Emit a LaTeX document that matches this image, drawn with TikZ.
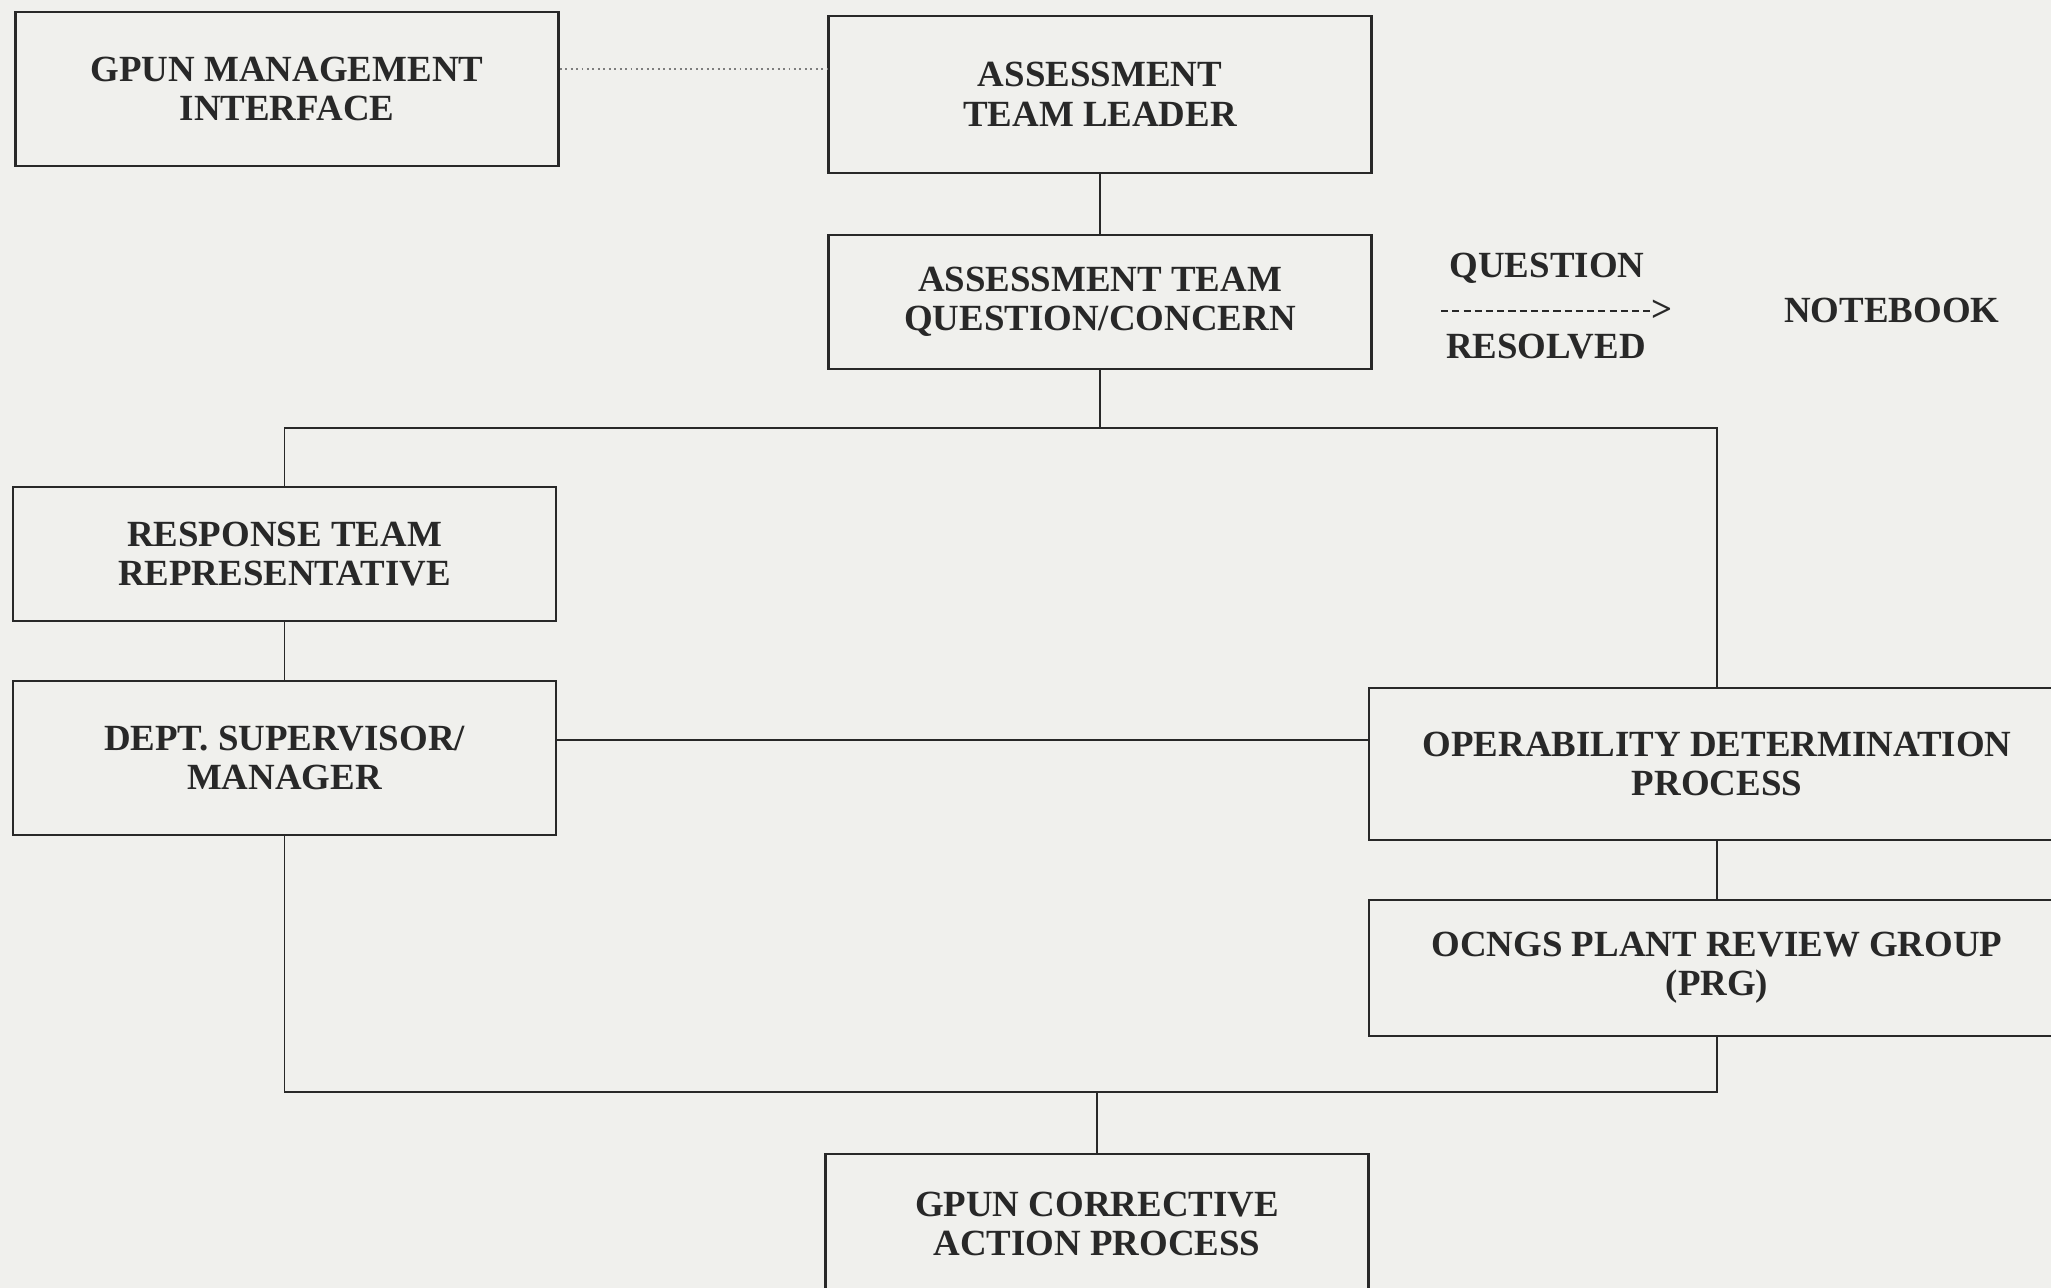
\documentclass[tikz,border=0pt]{standalone}
\usepackage{fontspec}
\setmainfont{Liberation Serif}
\usepackage{tikz}
\definecolor{paper}{RGB}{240,240,237}
\definecolor{ink}{RGB}{40,40,40}
\tikzstyle{block} = [rectangle, draw=ink, line width=0.7pt, minimum width=5.43cm, align=center, text=ink, font=\bfseries\fontsize{10.5}{11.2}\selectfont, inner sep=2pt]
\tikzstyle{wideblock} = [block, minimum width=6.96cm]
\tikzstyle{label} = [text=ink, font=\bfseries\fontsize{10.5}{11.2}\selectfont, inner sep=0pt]
\tikzstyle{link} = [draw=ink, line width=0.55pt]

\begin{document}
\begin{tikzpicture}
			\clip (0,0) rectangle (20.51,-12.88);
			\fill[paper] (0,0) rectangle (20.51,-12.88);
			% boxes
			\node [block, minimum height=1.54cm] (gpun) at (2.87,-0.89) {GPUN MANAGEMENT\\INTERFACE};
			\node [block, minimum height=1.57cm] (leader) at (11.00,-0.945) {ASSESSMENT\\TEAM LEADER};
			\node [block, minimum height=1.34cm] (concern) at (11.00,-3.02) {ASSESSMENT TEAM\\QUESTION/CONCERN};
			\node [block, minimum height=1.34cm] (response) at (2.845,-5.54) {RESPONSE TEAM\\REPRESENTATIVE};
			\node [block, minimum height=1.54cm] (dept) at (2.845,-7.58) {DEPT. SUPERVISOR/\\MANAGER};
			\node [wideblock, minimum height=1.52cm] (ops) at (17.17,-7.64) {OPERABILITY DETERMINATION\\PROCESS};
			\node [wideblock, minimum height=1.36cm] (ocngs) at (17.17,-9.68) {OCNGS PLANT REVIEW GROUP\\(PRG)};
			\node [block, minimum height=1.40cm] (corrective) at (10.97,-12.24) {GPUN CORRECTIVE\\ACTION PROCESS};
			% question resolved -> notebook
			\node [label] (question) at (15.47,-2.68) {QUESTION};
			\node [label] (resolved) at (15.46,-3.47) {RESOLVED};
			\node [label] (gt) at (16.62,-3.11) {>};
			\coordinate (dashstart) at (14.41,-3.11);
			\draw [ink, line width=0.6pt, dash pattern=on 2pt off 1.2pt] (dashstart) -- (gt.west);
			\node [label] (notebook) at (18.92,-3.10) {NOTEBOOK};
			% connectors
			\draw [link, draw=ink!60, densely dotted] ([yshift=2mm]gpun.east) -- ([yshift=2mm]gpun.east -| leader.west);
			\draw [link] (leader) -- (concern);
			\coordinate (topbus) at (11.00,-4.28);
			\draw [link] (concern.south) -- (topbus);
			\draw [link] (response.north) |- (topbus) -| (ops.north);
			\draw [link] (response) -- (dept);
			\draw [link] ([yshift=1.8mm]dept.east) -- ([yshift=1.8mm]dept.east -| ops.west);
			\draw [link] (ops) -- (ocngs);
			\coordinate (botbus) at (10.97,-10.92);
			\draw [link] (dept.south) |- (botbus) -| (ocngs.south);
			\draw [link] (botbus) -- (corrective.north);
		\end{tikzpicture}
\end{document}
